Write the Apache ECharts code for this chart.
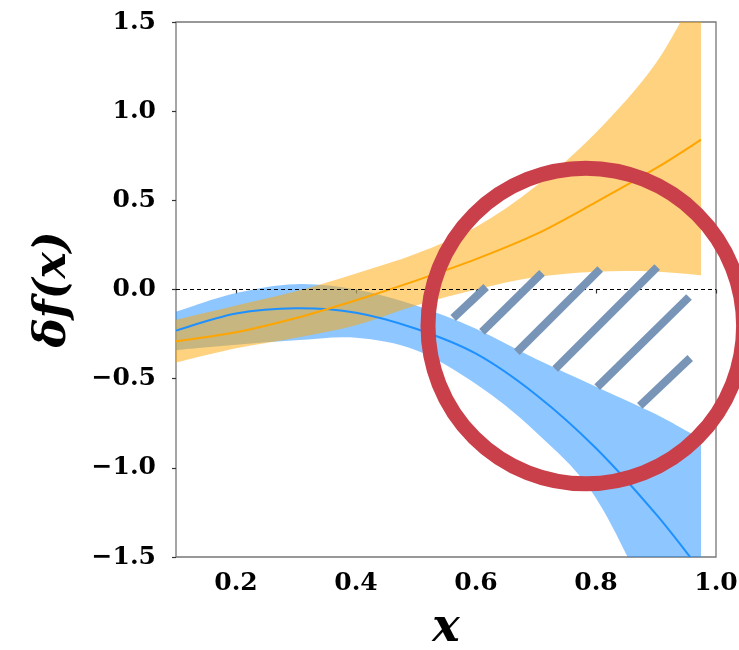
<!DOCTYPE html>
<html><head><meta charset="utf-8">
<script src="https://cdn.jsdelivr.net/npm/echarts@6/dist/echarts.min.js"></script>
<style>html,body{margin:0;padding:0;background:#fff}#c{width:739px;height:650px}</style>
</head><body><div id="c"></div>
<script>
const xs          = [0.1, 0.2, 0.3, 0.4, 0.5, 0.6, 0.7, 0.8, 0.9, 0.975];
const blueMid     = [-0.23, -0.135, -0.105, -0.13, -0.22, -0.36, -0.59, -0.89, -1.26, -1.58];
const blueUpper   = [-0.125, -0.02, 0.03, 0.0, -0.09, -0.22, -0.39, -0.545, -0.70, -0.84];
const blueLower   = [-0.34, -0.31, -0.285, -0.27, -0.34, -0.53, -0.80, -1.17, -1.85, -2.5];
const orangeMid   = [-0.29, -0.24, -0.16, -0.06, 0.05, 0.17, 0.31, 0.49, 0.68, 0.84];
const orangeUpper = [-0.17, -0.09, -0.01, 0.09, 0.2, 0.35, 0.58, 0.88, 1.27, 1.72];
const orangeLower = [-0.41, -0.33, -0.27, -0.20, -0.09, 0.0, 0.07, 0.10, 0.10, 0.08];
const xTicks = [0.2, 0.4, 0.6, 0.8, 1.0];
const yTicks = [-1.5, -1.0, -0.5, 0.0, 0.5, 1.0, 1.5];
const hatchSegments = [
  [[0.562, -0.160], [0.617, 0.014]],
  [[0.610, -0.238], [0.710, 0.093]],
  [[0.668, -0.351], [0.807, 0.115]],
  [[0.732, -0.446], [0.902, 0.126]],
  [[0.802, -0.547], [0.955, -0.042]],
  [[0.873, -0.653], [0.957, -0.384]]
];
const circleCenter = [0.783, -0.205];
const circleRadiusX = 0.263;

const pairs = (ys) => xs.map((x, i) => [x, ys[i]]);
const fmt = (v) => v.toFixed(1).replace('-', '\u2212');
const SERIF = "'DejaVu Serif', serif";

// Catmull-Rom -> cubic bezier path segments through pixel points
function curveSegs(p) {
  let s = '';
  for (let i = 0; i < p.length - 1; i++) {
    const p0 = p[Math.max(i - 1, 0)], p1 = p[i], p2 = p[i + 1], p3 = p[Math.min(i + 2, p.length - 1)];
    const c1 = [p1[0] + (p2[0] - p0[0]) / 6, p1[1] + (p2[1] - p0[1]) / 6];
    const c2 = [p2[0] - (p3[0] - p1[0]) / 6, p2[1] - (p3[1] - p1[1]) / 6];
    s += ' C' + c1[0] + ' ' + c1[1] + ' ' + c2[0] + ' ' + c2[1] + ' ' + p2[0] + ' ' + p2[1];
  }
  return s;
}
function bandSeries(lower, upper, color, z) {
  return {
    type: 'custom', clip: true, z: z, silent: true,
    data: xs.map((x, i) => [x, lower[i], upper[i]]),
    encode: { x: 0, y: [1, 2] },
    renderItem: function (params, api) {
      if (params.dataIndex !== 0) return null;
      const up = xs.map((x, i) => api.coord([x, upper[i]]));
      const lo = xs.map((x, i) => api.coord([x, lower[i]])).reverse();
      const d = 'M' + up[0][0] + ' ' + up[0][1] + curveSegs(up) +
                ' L' + lo[0][0] + ' ' + lo[0][1] + curveSegs(lo) + ' Z';
      return { type: 'path', shape: { pathData: d }, style: { fill: color, opacity: 0.5, stroke: null } };
    }
  };
}
function midSeries(ys, color) {
  return {
    type: 'custom', clip: true, z: 3, silent: true,
    data: pairs(ys),
    encode: { x: 0, y: 1 },
    renderItem: function (params, api) {
      if (params.dataIndex !== 0) return null;
      const p = xs.map((x, i) => api.coord([x, ys[i]]));
      const d = 'M' + p[0][0] + ' ' + p[0][1] + curveSegs(p);
      return { type: 'path', shape: { pathData: d }, style: { fill: null, stroke: color, lineWidth: 2 } };
    }
  };
}

const chart = echarts.init(document.getElementById('c'));
chart.setOption({
  animation: false,
  backgroundColor: '#fff',
  grid: { left: 176, top: 22, right: 23, bottom: 93, containLabel: false, outerBoundsMode: 'none',
    show: true, borderColor: '#777', borderWidth: 1.3, backgroundColor: 'transparent' },
  xAxis: {
    type: 'value', min: 0.1, max: 1.0,
    name: 'x', nameLocation: 'middle', nameGap: 49,
    nameTextStyle: { fontFamily: SERIF, fontStyle: 'italic', fontWeight: 'bold', fontSize: 46, color: '#000' },
    axisLine: { show: false },
    splitLine: { show: false },
    axisTick: { show: true, length: 4, customValues: xTicks, lineStyle: { color: '#333', width: 1.2 } },
    axisLabel: { customValues: xTicks, formatter: fmt, margin: 14, fontFamily: SERIF, fontWeight: 'bold', fontSize: 25, color: '#000' }
  },
  yAxis: {
    type: 'value', min: -1.5, max: 1.5,
    name: '\u03b4f(x)', nameLocation: 'middle', nameGap: 100, nameRotate: 90,
    nameTextStyle: { fontFamily: SERIF, fontStyle: 'italic', fontWeight: 'bold', fontSize: 44, color: '#000' },
    axisLine: { show: false },
    splitLine: { show: false },
    axisTick: { show: true, length: 4, customValues: yTicks, lineStyle: { color: '#333', width: 1.2 } },
    axisLabel: { customValues: yTicks, formatter: fmt, margin: 20, fontFamily: SERIF, fontWeight: 'bold', fontSize: 25, color: '#000' }
  },
  series: [
    bandSeries(blueLower, blueUpper, '#1E90FF', 1),
    bandSeries(orangeLower, orangeUpper, '#FFA500', 2),
    midSeries(blueMid, '#1E90FF'),
    midSeries(orangeMid, '#FFA500'),
    { type: 'line', data: [], z: 4, symbol: 'none',
      markLine: { silent: true, symbol: 'none', label: { show: false },
        lineStyle: { color: '#000', width: 1, type: [4, 3] }, data: [{ yAxis: 0 }] } },
    { type: 'lines', coordinateSystem: 'cartesian2d', z: 5,
      lineStyle: { color: '#7895B8', width: 8, opacity: 1, cap: 'butt' },
      data: hatchSegments.map(s => ({ coords: s })) }
  ]
});

const c = chart.convertToPixel({ gridIndex: 0 }, circleCenter);
const e = chart.convertToPixel({ gridIndex: 0 }, [circleCenter[0] + circleRadiusX, circleCenter[1]]);
chart.setOption({
  graphic: [{
    type: 'circle', z: 100, silent: true,
    shape: { cx: c[0], cy: c[1], r: e[0] - c[0] },
    style: { fill: 'none', stroke: '#C9404A', lineWidth: 15 }
  }]
});
</script></body></html>
